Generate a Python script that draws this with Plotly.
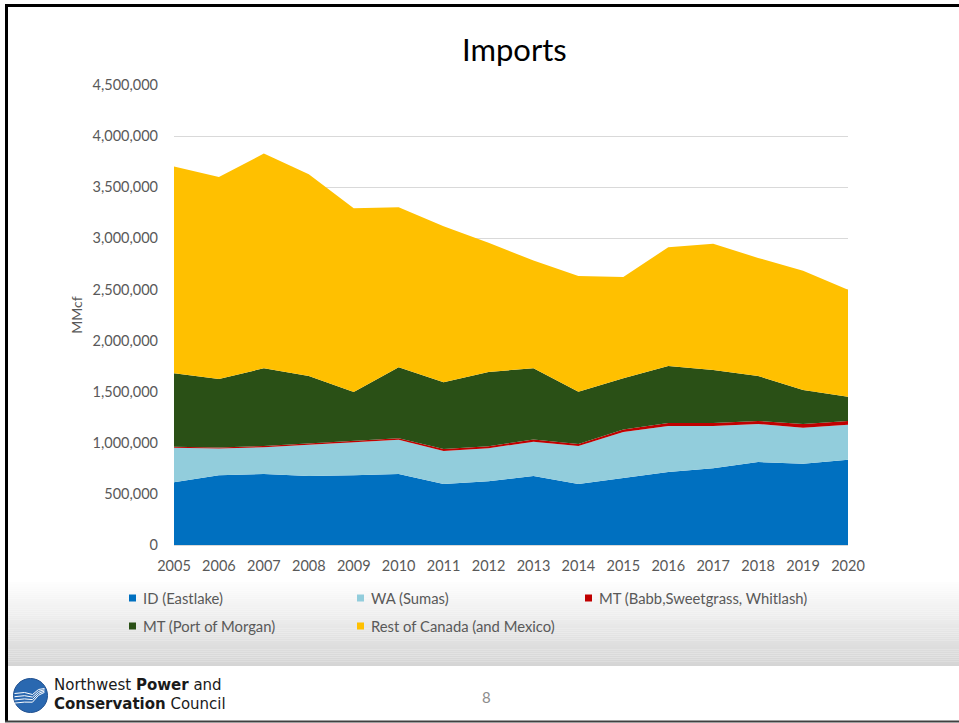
import plotly.graph_objects as go

years = list(range(2005, 2021))
id_eastlake = [613000, 682000, 695000, 675000, 682000, 695000, 597000, 623000, 675000, 597000, 656000, 714000, 750000, 812000, 796000, 835000]
wa_sumas = [339000, 261000, 261000, 303000, 323000, 335000, 323000, 323000, 336000, 372000, 450000, 450000, 414000, 372000, 352000, 342000]
mt_babb = [8000, 12000, 12000, 15000, 15000, 15000, 20000, 20000, 20000, 20000, 25000, 30000, 30000, 30000, 35000, 35000]
mt_morgan = [720000, 669000, 761000, 661000, 477000, 694000, 652000, 727000, 698000, 511000, 500000, 557000, 518000, 440000, 334000, 239000]
rest_canada = [2022000, 1977000, 2100000, 1973000, 1797000, 1565000, 1526000, 1265000, 1053000, 1132000, 991000, 1162000, 1236000, 1154000, 1167000, 1047000]

series_names = ["ID (Eastlake)", "WA (Sumas)", "MT (Babb,Sweetgrass, Whitlash)",
                "MT (Port of Morgan)", "Rest of Canada (and Mexico)"]
series_values = [id_eastlake, wa_sumas, mt_babb, mt_morgan, rest_canada]
colors = ["#0070C0", "#92CDDC", "#C00000", "#2A5016", "#FFC000"]

y_ticks = list(range(0, 4500001, 500000))

W, H = 959, 723
L, R, T, B = 174, 848, 85, 545  # plot area pixels


def px(x):
    return (x - L) / (R - L)


def py(y):
    return (B - y) / (B - T)


fig = go.Figure()
for name, vals, col in zip(series_names, series_values, colors):
    fig.add_trace(go.Scatter(
        x=years, y=vals, name=name, mode="lines", stackgroup="one",
        line=dict(width=0, color=col), fillcolor=col, showlegend=False,
        hovertemplate="%{x}: %{y:,}<extra>" + name + "</extra>"))

shapes = []
annotations = []

# gradient band behind legend
n = 40
top, bot = 582, 666
for i in range(n):
    y0 = top + (bot - top) * i / n
    y1 = top + (bot - top) * (i + 1) / n
    t = (i + 0.5) / n
    g = int(round(254 - (254 - 212) * t))
    shapes.append(dict(type="rect", xref="paper", yref="paper", layer="below",
                       x0=px(8), x1=px(960), y0=py(y1), y1=py(y0),
                       fillcolor=f"rgb({g},{g},{g})", line=dict(width=0)))

# slide border
shapes.append(dict(type="line", xref="paper", yref="paper", x0=px(5), x1=px(960),
                   y0=py(5.5), y1=py(5.5), line=dict(color="black", width=3)))
shapes.append(dict(type="line", xref="paper", yref="paper", x0=px(6.5), x1=px(6.5),
                   y0=py(4), y1=py(722), line=dict(color="black", width=3)))
shapes.append(dict(type="line", xref="paper", yref="paper", x0=px(5), x1=px(960),
                   y0=py(721.5), y1=py(721.5), line=dict(color="#404040", width=2)))

# legend (manual, two rows)
legend_pos = [(129, 598), (357, 598), (585, 598), (129, 626), (357, 626)]
for (lx, ly), name, col in zip(legend_pos, series_names, colors):
    shapes.append(dict(type="rect", xref="paper", yref="paper",
                       x0=px(lx), x1=px(lx + 7), y0=py(ly + 3.5), y1=py(ly - 3.5),
                       fillcolor=col, line=dict(width=0)))
    annotations.append(dict(xref="paper", yref="paper", x=px(lx + 12), y=py(ly),
                            xanchor="left", yanchor="middle", showarrow=False,
                            text=name, font=dict(size=14.8, color="#595959",
                                                 family="Lato, Open Sans, sans-serif")))

# title
annotations.append(dict(xref="paper", yref="paper", x=px(514), y=py(49), xanchor="center",
                        yanchor="middle", showarrow=False, text="Imports",
                        font=dict(size=31, color="#000000", family="Lato, sans-serif")))

# page number
annotations.append(dict(xref="paper", yref="paper", x=px(486), y=py(697), xanchor="center",
                        yanchor="middle", showarrow=False, text="8",
                        font=dict(size=15, color="#8c8c8c", family="Lato, sans-serif")))

# logo
cx, cy, r = 30.5, 695.5, 17
shapes.append(dict(type="circle", xref="paper", yref="paper",
                   x0=px(cx - r), x1=px(cx + r), y0=py(cy + r), y1=py(cy - r),
                   fillcolor="#2a68b0", line=dict(color="#1f4f8f", width=1)))


def path_px(pts):
    s = ""
    for i, (a, b) in enumerate(pts):
        s += ("M" if i == 0 else "L") + f"{px(a):.5f},{py(b):.5f} "
    return s


for k in range(4):
    off = k * 3.2
    pts = [(cx - r + 1, cy - 2 + off), (cx - 6, cy - 3 + off), (cx + 2, cy - 1 + off * 0.8),
           (cx + 8, cy - 6 + off * 0.6), (cx + 14, cy - 7 + off * 0.4)]
    shapes.append(dict(type="path", xref="paper", yref="paper", path=path_px(pts),
                       line=dict(color="white", width=1)))

logo_font = dict(size=15, color="#1a1a1a", family="DejaVu Sans, Lato, sans-serif")
annotations.append(dict(xref="paper", yref="paper", x=px(52), y=py(685), xanchor="left",
                        yanchor="middle", showarrow=False,
                        text="Northwest <b>Power</b> and", font=logo_font))
annotations.append(dict(xref="paper", yref="paper", x=px(52), y=py(704), xanchor="left",
                        yanchor="middle", showarrow=False,
                        text="<b>Conservation</b> Council", font=logo_font))

tick_font = dict(size=14.5, color="#595959", family="Lato, Open Sans, sans-serif")

fig.update_layout(
    width=W, height=H,
    margin=dict(l=L, r=W - R, t=T, b=H - B),
    paper_bgcolor="white", plot_bgcolor="white",
    showlegend=False,
    shapes=shapes, annotations=annotations,
    xaxis=dict(range=[2005, 2020], tickmode="array", tickvals=years,
               ticktext=[str(y) for y in years], showgrid=False, zeroline=False,
               showline=True, linecolor="#d9d9d9", linewidth=1,
               tickfont=tick_font, ticks="", ticklabelstandoff=8),
    yaxis=dict(range=[0, 4500000], tickmode="array", tickvals=y_ticks,
               ticktext=[f"{v:,}" for v in y_ticks], showgrid=True,
               gridcolor="#d9d9d9", gridwidth=1, zeroline=False, showline=False,
               tickfont=tick_font, ticks="", ticklabelstandoff=15,
               title=dict(text="MMcf", font=dict(size=14, color="#595959",
                                                 family="Lato, sans-serif"),
                          standoff=6)),
)

fig.write_html("out.html", config={"displayModeBar": False},
               post_script="document.body.style.margin='0px';document.body.style.overflow='hidden';")
